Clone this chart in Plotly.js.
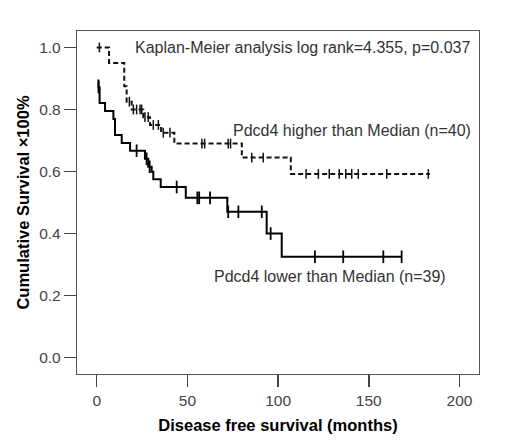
<!DOCTYPE html>
<html>
<head>
<meta charset="utf-8">
<script src="https://cdn.plot.ly/plotly-3.0.1.min.js"></script>
<style>html,body{margin:0;padding:0;background:#fff;}#chart{width:520px;height:447px;}</style>
</head>
<body>
<div id="chart"></div>
<script>
// Pdcd4 higher than Median (dashed)
const highTimes = [0, 6.8, 15.2, 16.5, 19.3, 25.7, 29.4, 35.5, 42.8, 80.0, 107.0];
const highSurv  = [1.0, 0.95, 0.875, 0.825, 0.80, 0.775, 0.75, 0.725, 0.69, 0.645, 0.592];
const highEnd = 183.7;
const highCensor = [1.5, 18.0, 20.2, 22.0, 23.9, 24.8, 26.6, 28.4, 31.2, 34.0, 36.7, 40.4,
                    58.0, 59.5, 72.5, 73.8, 85.5, 91.8, 115.4, 122.2, 128.2, 133.7, 137.3,
                    140.6, 144.2, 159.9, 182.8];

// Pdcd4 lower than Median (solid)
const lowTimes = [1.0, 1.0, 1.6, 4.6, 9.2, 10.1, 13.8, 18.4, 26.6, 28.4, 30.3, 31.2, 35.3, 49.1, 72.0, 93.7, 102.0];
const lowSurv  = [0.897, 0.872, 0.821, 0.795, 0.769, 0.718, 0.692, 0.667, 0.641, 0.615, 0.599, 0.575, 0.550, 0.515, 0.470, 0.400, 0.325];
const lowEnd = 168.1;
const lowCensor = [1.0, 22.0, 27.5, 29.2, 44.1, 55.5, 56.5, 62.5, 72.5, 78.1, 91.0, 95.9, 120.3, 135.9, 158.0, 168.1];

const xTicks = [0, 50, 100, 150, 200];
const yTicks = [0.0, 0.2, 0.4, 0.6, 0.8, 1.0];
const yTickText = ['0.0', '0.2', '0.4', '0.6', '0.8', '1.0'];

const titleText = 'Kaplan-Meier analysis log rank=4.355, p=0.037';
const highLabel = 'Pdcd4 higher than Median (n=40)';
const lowLabel = 'Pdcd4 lower than Median (n=39)';

function stepAt(times, surv, t) {
  let v = surv[0];
  for (let i = 0; i < times.length; i++) { if (times[i] <= t) v = surv[i]; }
  return v;
}

const FONT = 'Arial, "Liberation Sans", sans-serif';

const traces = [
  {
    x: highTimes.concat([highEnd]), y: highSurv.concat([highSurv[highSurv.length - 1]]),
    mode: 'lines', line: {shape: 'hv', color: '#111', width: 2, dash: '5px,3px'},
    hoverinfo: 'skip', showlegend: false
  },
  {
    x: highCensor, y: highCensor.map(t => stepAt(highTimes, highSurv, t)),
    mode: 'markers', marker: {symbol: 'line-ns', size: 7, line: {color: '#111', width: 1.5}},
    hoverinfo: 'skip', showlegend: false
  },
  {
    x: lowTimes.concat([lowEnd]), y: lowSurv.concat([lowSurv[lowSurv.length - 1]]),
    mode: 'lines', line: {shape: 'hv', color: '#000', width: 2},
    hoverinfo: 'skip', showlegend: false
  },
  {
    x: lowCensor, y: lowCensor.map(t => stepAt(lowTimes, lowSurv, t)),
    mode: 'markers', marker: {symbol: 'line-ns', size: 9, line: {color: '#000', width: 1.8}},
    hoverinfo: 'skip', showlegend: false
  }
];

const layout = {
  width: 520, height: 447,
  margin: {l: 77, r: 41, t: 31, b: 73, pad: 0},
  paper_bgcolor: '#fff', plot_bgcolor: '#fff',
  font: {family: FONT, size: 16, color: '#333'},
  xaxis: {
    range: [-10.86, 210.75], tickvals: xTicks, ticktext: xTicks.map(String),
    ticks: 'outside', ticklen: 12, tickwidth: 1.5, tickcolor: '#444',
    showline: true, linecolor: '#555', linewidth: 1.2, mirror: true,
    showgrid: false, zeroline: false,
    tickfont: {family: FONT, size: 15.5, color: '#444'},
    title: {text: 'Disease free survival (months)', font: {family: FONT, size: 16.5, color: '#000', weight: 'bold'}, standoff: 11}
  },
  yaxis: {
    range: [-0.053, 1.053], tickvals: yTicks, ticktext: yTickText,
    ticks: 'outside', ticklen: 12, tickwidth: 1.5, tickcolor: '#444',
    showline: true, linecolor: '#555', linewidth: 1.2, mirror: true,
    showgrid: false, zeroline: false,
    tickfont: {family: FONT, size: 15.5, color: '#444'},
    title: {text: 'Cumulative Survival ×100%', font: {family: FONT, size: 16.5, color: '#000', weight: 'bold'}, standoff: 5}
  },
  annotations: [
    {x: 20.0, y: 1.0, xref: 'x', yref: 'y', text: titleText, showarrow: false,
     xanchor: 'left', yanchor: 'middle', font: {family: FONT, size: 16, color: '#333'}},
    {x: 74.0, y: 0.732, xref: 'x', yref: 'y', text: highLabel, showarrow: false,
     xanchor: 'left', yanchor: 'middle', font: {family: FONT, size: 16, color: '#333'}},
    {x: 63.4, y: 0.261, xref: 'x', yref: 'y', text: lowLabel, showarrow: false,
     xanchor: 'left', yanchor: 'middle', font: {family: FONT, size: 16, color: '#333'}}
  ]
};

Plotly.newPlot('chart', traces, layout, {displayModeBar: false, staticPlot: true});
</script>
</body>
</html>
